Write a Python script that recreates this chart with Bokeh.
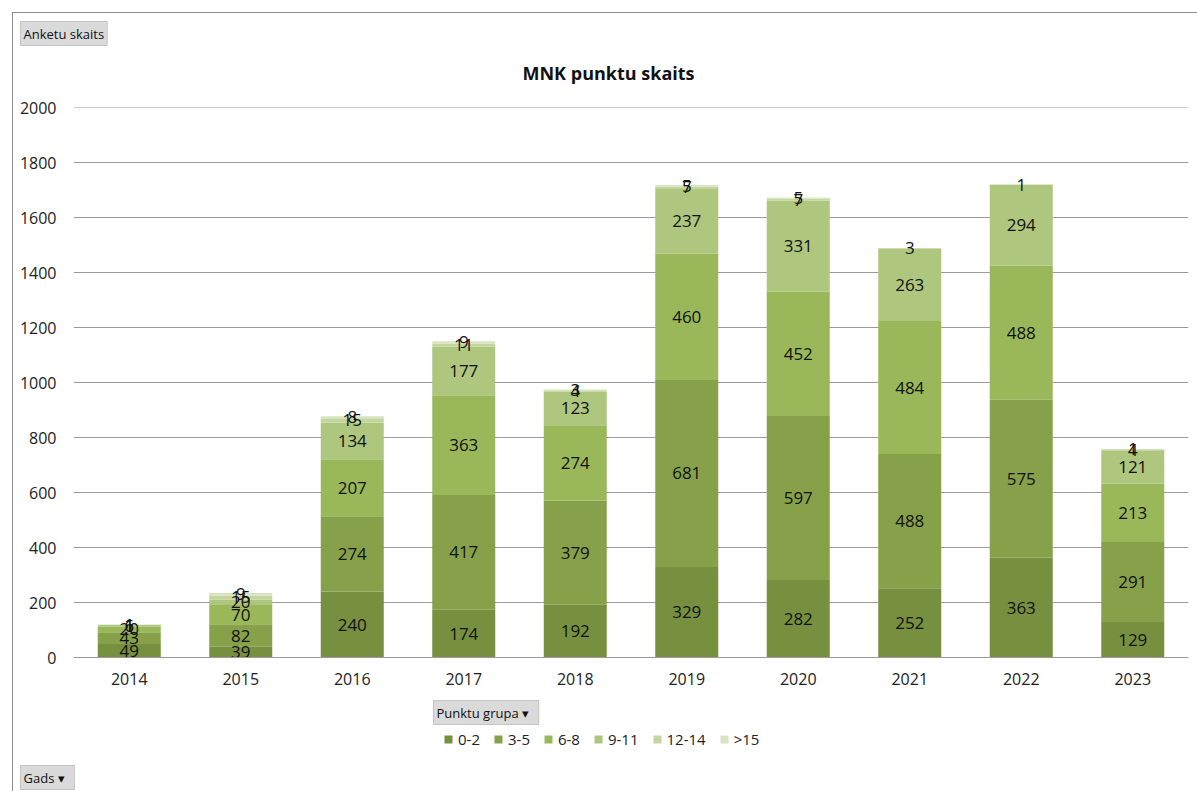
from bokeh.plotting import figure
from bokeh.layouts import column
from bokeh.models import (ColumnDataSource, FactorRange, Range1d, Legend, LegendItem,
                          Title, Label, FixedTicker)
from bokeh.core.properties import value
from bokeh.embed import file_html
from bokeh.resources import INLINE

years = ["2014", "2015", "2016", "2017", "2018", "2019", "2020", "2021", "2022", "2023"]
groups = ["0-2", "3-5", "6-8", "9-11", "12-14", ">15"]
g0_2 = [49, 39, 240, 174, 192, 329, 282, 252, 363, 129]
g3_5 = [43, 82, 274, 417, 379, 681, 597, 488, 575, 291]
g6_8 = [20, 70, 207, 363, 274, 460, 452, 484, 488, 213]
g9_11 = [6, 20, 134, 177, 123, 237, 331, 263, 294, 121]
g12_14 = [1, 15, 15, 11, 4, 7, 7, 3, 1, 4]
g15 = [1, 9, 8, 9, 3, 5, 5, 0, 0, 1]
y_ticks = [0, 200, 400, 600, 800, 1000, 1200, 1400, 1600, 1800, 2000]
colors = ["#76903F", "#86A14A", "#9AB85A", "#AEC67E", "#C4D6A0", "#D8E4BF"]

series = [g0_2, g3_5, g6_8, g9_11, g12_14, g15]
keys = ["g0", "g1", "g2", "g3", "g4", "g5"]
data = {"year": years}
for k, s in zip(keys, series):
    data[k] = s
source = ColumnDataSource(data)

FONT = "Open Sans"
BORDER = "1px solid #8C8C8C"

def button_title(text, offset, standoff):
    return Title(text=text, align="left", offset=offset, standoff=standoff,
                 text_font=FONT, text_font_size="13px", text_font_style="normal",
                 text_color="#111111", background_fill_color="#DADADA",
                 border_line_color="#C4C4C4", padding=3)

p = figure(x_range=FactorRange(*years), y_range=Range1d(0, 2001),
           width=1185, height=684, output_backend="svg", toolbar_location=None,
           min_border_left=60, min_border_right=10, min_border_top=94, min_border_bottom=40)
p.title = button_title("Anketu skaits", -53, 4)
p.margin = (12, 0, 0, 12)
p.styles = {"border-left": BORDER, "border-top": BORDER}
p.outline_line_color = None
p.background_fill_color = "white"
p.border_fill_color = "white"

# spacer between the plot area and the chart title
p.add_layout(Title(text=" ", text_font_size="2px", standoff=8), "above")
p.add_layout(Title(text="MNK punktu skaits", align="left", offset=449, standoff=22,
                   text_font=FONT, text_font_size="18px", text_font_style="bold",
                   text_color="#111111"), "above")

rends = p.vbar_stack(keys, x="year", width=0.565, color=colors, line_color=None, source=source)

# data labels
lx, ly, lt = [], [], []
for i, yr in enumerate(years):
    base = 0
    for s in series:
        v = s[i]
        if v > 0:
            lx.append(yr)
            ly.append(base + v / 2)
            lt.append(str(v))
        base += v
lsrc = ColumnDataSource(dict(x=lx, y=ly, t=lt))
p.text(x="x", y="y", text="t", source=lsrc, text_align="center", text_baseline="middle",
       text_font=value(FONT), text_font_size="17px", text_color="#111111")

# axes
p.yaxis.ticker = FixedTicker(ticks=y_ticks)
p.yaxis.axis_line_color = None
p.yaxis.major_tick_line_color = None
p.yaxis.minor_tick_line_color = None
p.yaxis.major_label_standoff = 11
p.yaxis.major_label_text_font = FONT
p.yaxis.major_label_text_font_size = "16px"
p.yaxis.major_label_text_color = "#222222"

p.xaxis.axis_line_color = "#9A9A9A"
p.xaxis.major_tick_line_color = None
p.xaxis.minor_tick_line_color = None
p.xaxis.major_label_standoff = 9
p.xaxis.major_label_text_font = FONT
p.xaxis.major_label_text_font_size = "16px"
p.xaxis.major_label_text_color = "#222222"

p.xgrid.grid_line_color = None
p.ygrid.grid_line_color = "#9A9A9A"
p.ygrid.grid_line_width = 1

# lower strip: field button, legend, axis-field button
q = figure(x_range=Range1d(0, 1185), y_range=Range1d(0, 95), width=1185, height=95,
           output_backend="svg", toolbar_location=None, min_border=0,
           x_axis_location=None, y_axis_location=None)
q.margin = (0, 0, 0, 12)
q.styles = {"border-left": BORDER}
q.outline_line_color = None
q.xgrid.grid_line_color = None
q.ygrid.grid_line_color = None
q.background_fill_color = "white"
q.border_fill_color = "white"
for fig in (p, q):
    try:
        fig.frame_align = False
    except Exception:
        pass

def button_label(text, x, y):
    return Label(x=x, y=y, x_units="screen", y_units="screen", text=text,
                 text_font=FONT, text_font_size="13px", text_color="#111111",
                 text_baseline="middle", text_align="left",
                 background_fill_color="#DADADA", border_line_color="#C4C4C4", padding=3)

q.add_layout(button_label("Punktu grupa   \u25BE", 420, 79))
q.add_layout(button_label("Gads   \u25BE", 7, 14))

proxies = [q.vbar(x=[-5000], top=[-5000], bottom=[-5001], width=1, color=c, line_color=None)
           for c in colors]
items = [LegendItem(label=g, renderers=[r]) for g, r in zip(groups, proxies)]
legend = Legend(items=items, orientation="horizontal", location=(430, 42),
                glyph_width=10, glyph_height=10, label_text_font=FONT,
                label_text_font_size="15px", label_standoff=5, spacing=13,
                padding=0, margin=0, border_line_color=None, background_fill_alpha=0,
                label_text_color="#222222")
q.add_layout(legend)

layout = column(p, q, spacing=0)
open("out.html", "w").write(file_html(layout, INLINE))
